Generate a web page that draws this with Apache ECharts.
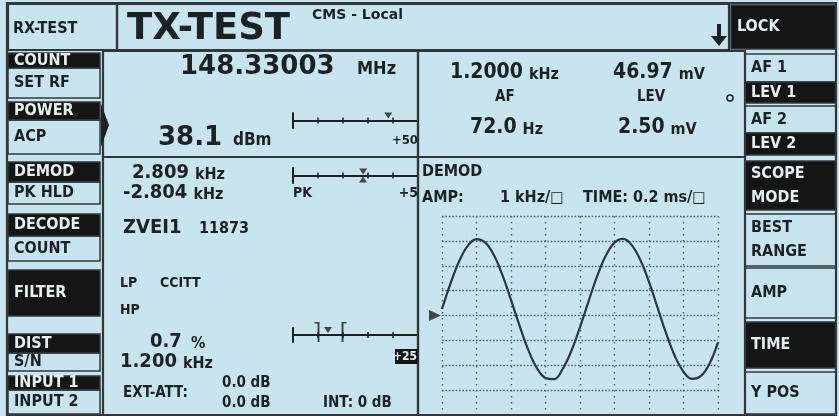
<!DOCTYPE html>
<html>
<head>
<meta charset="utf-8">
<script src="https://cdn.jsdelivr.net/npm/echarts@6/dist/echarts.min.js"></script>
<style>
  html, body { margin: 0; padding: 0; background: #c8e4ee; }
  #main { width: 839px; height: 416px; }
</style>
</head>
<body>
<div id="main"></div>
<script>
// scope trace (0.2 ms/div, 1 kHz/div)
var scopeTimeMs = [0, 0.05, 0.1, 0.15, 0.2, 0.25, 0.3, 0.35, 0.4, 0.45, 0.5, 0.55, 0.6, 0.65, 0.7, 0.75,
  0.8, 0.85, 0.9, 0.95, 1.0, 1.05, 1.1, 1.15, 1.2, 1.25, 1.3, 1.35, 1.4, 1.45, 1.5, 1.55, 1.6]
var scopeDevKHz = [0.26, 1.30, 2.19, 2.81, 3.07, 2.94, 2.44, 1.63, 0.63, -0.42, -1.38, -2.11, -2.51, -2.56, -2.14, -1.42,
  -0.47, 0.58, 1.59, 2.41, 2.93, 3.08, 2.83, 2.23, 1.35, 0.31, -0.73, -1.63, -2.26, -2.55, -2.44, -1.95, -1.08]

// bar meters: full scale and readings
var meterMax = [50, 5, 2.5]
var powerReading = [38.1]
var demodPeaks = [2.809, 2.804]
var distLimits = [0.5, 1.0]
var distReading = [0.7]

var INK = '#1b2225'
var LINE = '#30383c'
var INV = '#151515'
var INVTXT = '#e6eef0'
var COND = '"DejaVu Sans Condensed", "DejaVu Sans", sans-serif'
var WIDE = '"DejaVu Sans", sans-serif'
var NARROW = '"Liberation Sans Narrow", "DejaVu Sans Condensed", sans-serif'

var ctx = document.createElement('canvas').getContext('2d')
function tw (s, size, fam) {
  ctx.font = 'bold ' + size + 'px ' + fam
  return ctx.measureText(s).width
}

function txt (x, y, s, size, opt) {
  opt = opt || {}
  return {
    type: 'text', x: x, y: y, z: 50, silent: true,
    style: {
      text: s,
      fill: opt.fill || INK,
      font: 'bold ' + size + 'px ' + (opt.family || COND),
      align: opt.align || 'left', textAlign: opt.align || 'left',
      verticalAlign: 'middle', textVerticalAlign: 'middle'
    }
  }
}
// number followed by its unit in a smaller face
function reading (x, y, num, unit, ns, us, fam, gap) {
  var f = fam || COND
  var w = tw(num, ns, f)
  return [txt(x, y, num, ns, { family: f }), txt(x + w + (gap || 6), y + 2, unit, us)]
}
function box (x, y, w, h, dark) {
  return {
    type: 'rect', z: 10, silent: true,
    shape: { x: x, y: y, width: w, height: h },
    style: { fill: dark ? INV : 'none', stroke: LINE, lineWidth: 1.5 }
  }
}
function frame (x, y, w, h) {
  return {
    type: 'rect', z: 12, silent: true,
    shape: { x: x, y: y, width: w, height: h },
    style: { fill: 'none', stroke: LINE, lineWidth: 2.2 }
  }
}
// softkey: label on light or inverted box
function key (x, y, w, h, label, dark) {
  var out = [box(x, y, w, h, dark)]
  var lines = label.split('\n')
  lines.forEach(function (l, i) {
    var cy = y + h / 2 + (i - (lines.length - 1) / 2) * 24
    out.push(txt(x + 6, cy, l, 16, { fill: dark ? INVTXT : INK }))
  })
  return out
}

var g = []
// panels
g.push(frame(7, 3, 829, 412))
g.push(frame(8, 4, 109, 46))
g.push(frame(117, 4, 612, 46))
g.push(frame(103, 51, 315, 106))
g.push(frame(418, 51, 327, 106))
g.push(frame(103, 157, 315, 258))
g.push(frame(418, 157, 327, 258))

// title row
g.push(txt(13, 29, 'RX-TEST', 16))
g.push(txt(127, 29, 'TX-TEST', 37, { family: WIDE }))
g.push(txt(312, 15, 'CMS - Local', 14, { family: WIDE }))
g.push({ type: 'rect', z: 20, shape: { x: 717, y: 24, width: 4, height: 14 }, style: { fill: INK } })
g.push({ type: 'polygon', z: 20, shape: { points: [[711, 36], [727, 36], [719, 46]] }, style: { fill: INK } })
g = g.concat(key(731, 5, 105, 44, 'LOCK', true))

// left softkeys
g = g.concat(key(8, 53, 92, 15, 'COUNT', true), key(8, 68, 92, 30, 'SET RF', false))
g = g.concat(key(8, 102, 92, 18, 'POWER', true), key(8, 120, 92, 34, 'ACP', false))
g.push({ type: 'polygon', z: 20, shape: { points: [[101, 104], [109, 125], [101, 147]] }, style: { fill: INK } })
g = g.concat(key(8, 162, 92, 20, 'DEMOD', true), key(8, 182, 92, 22, 'PK HLD', false))
g = g.concat(key(8, 214, 92, 22, 'DECODE', true), key(8, 236, 92, 25, 'COUNT', false))
g = g.concat(key(8, 270, 92, 46, 'FILTER', true))
g = g.concat(key(8, 334, 92, 19, 'DIST', true), key(8, 353, 92, 18, 'S/N', false))
g = g.concat(key(8, 376, 92, 14, 'INPUT 1', true), key(8, 390, 92, 24, 'INPUT 2', false))

// right softkeys
g = g.concat(key(745, 54, 91, 28, 'AF 1', false), key(745, 82, 91, 21, 'LEV 1', true))
g = g.concat(key(745, 106, 91, 27, 'AF 2', false), key(745, 133, 91, 22, 'LEV 2', true))
g = g.concat(key(745, 161, 91, 49, 'SCOPE\nMODE', true))
g = g.concat(key(745, 214, 91, 52, 'BEST\nRANGE', false))
g = g.concat(key(745, 268, 91, 50, 'AMP', false))
g = g.concat(key(745, 322, 91, 46, 'TIME', true))
g = g.concat(key(745, 372, 91, 42, 'Y POS', false))

// RF readings
g.push(txt(180, 67, '148.33003', 26, { family: WIDE }))
g.push(txt(357, 69, 'MHz', 18))
g.push(txt(158, 138, '38.1', 26, { family: WIDE }))
g.push(txt(233, 141, 'dBm', 17))
g.push(txt(418, 141, '+50', 13, { align: 'right' }))

// AF / level readings
g = g.concat(reading(450, 73, '1.2000', 'kHz', 21, 16))
g = g.concat(reading(613, 73, '46.97', 'mV', 21, 16))
g.push(txt(495, 97, 'AF', 15), txt(637, 97, 'LEV', 15))
g = g.concat(reading(470, 128, '72.0', 'Hz', 21, 16))
g = g.concat(reading(618, 128, '2.50', 'mV', 21, 16))
g.push({ type: 'circle', z: 20, shape: { cx: 730, cy: 98, r: 3 }, style: { fill: 'none', stroke: INK, lineWidth: 1.5 } })

// demod / decode / filter / dist
g = g.concat(reading(132, 173, '2.809', 'kHz', 20, 16))
g = g.concat(reading(123, 193, '-2.804', 'kHz', 20, 16))
g.push(txt(293, 193, 'PK', 14), txt(418, 193, '+5', 14, { align: 'right' }))
g.push(txt(123, 228, 'ZVEI1', 20), txt(199, 229, '11873', 16, { family: NARROW }))
g.push(txt(120, 283, 'LP', 14), txt(160, 283, 'CCITT', 14))
g.push(txt(120, 310, 'HP', 14))
g = g.concat(reading(150, 342, '0.7', '%', 20, 16, COND, 9))
g = g.concat(reading(120, 362, '1.200', 'kHz', 20, 16))
g.push({ type: 'rect', z: 20, shape: { x: 395, y: 349, width: 23, height: 15 }, style: { fill: INV } })
g.push(txt(417, 357, '+25', 12, { align: 'right', fill: INVTXT, family: NARROW }))
g.push(txt(123, 393, 'EXT-ATT:', 15))
g.push(txt(222, 383, '0.0 dB', 15), txt(222, 403, '0.0 dB', 15))
g.push(txt(323, 403, 'INT: 0 dB', 15))

// scope header
g.push(txt(422, 172, 'DEMOD', 16))
g.push(txt(422, 198, 'AMP:', 16), txt(500, 198, '1 kHz/\u25a1', 16))
g.push(txt(583, 198, 'TIME:', 16), txt(633, 198, '0.2 ms/\u25a1', 16))

// grids: 0 = scope, 1..3 = bar meters
var meterTop = [113, 168, 328]
var meterH = [15, 15, 14]
var grids = [{ left: 442, top: 216, width: 276, height: 199 }]
var xAxes = [{
  gridIndex: 0, type: 'value', min: 0, max: 1.6, interval: 0.2,
  axisLine: { show: false }, axisTick: { show: false }, axisLabel: { show: false },
  splitLine: { show: true, lineStyle: { color: '#49656e', width: 1.4, type: [1.5, 4.5] } }
}]
var yAxes = [{
  gridIndex: 0, type: 'value', min: -4, max: 4, interval: 1,
  axisLine: { show: false }, axisTick: { show: false }, axisLabel: { show: false },
  splitLine: { show: true, lineStyle: { color: '#49656e', width: 1.4, type: [1.6, 1.8] } }
}]
meterMax.forEach(function (mx, i) {
  var gi = i + 1
  grids.push({ left: 293, top: meterTop[i], width: 125, height: meterH[i] })
  ;['bottom', 'top'].forEach(function (pos) {
    xAxes.push({
      gridIndex: gi, type: 'value', min: 0, max: mx, interval: mx / 5, position: pos,
      axisLine: { show: true, onZero: true, lineStyle: { color: INK, width: 2 } },
      axisTick: { show: true, length: 3, lineStyle: { color: INK, width: 1.5 } },
      axisLabel: { show: false }, splitLine: { show: false }
    })
  })
  ;['left', 'right'].forEach(function (pos) {
    yAxes.push({
      gridIndex: gi, type: 'value', min: -1, max: 1, position: pos,
      axisLine: { show: true, onZero: false, lineStyle: { color: INK, width: 2 } },
      axisTick: { show: false }, axisLabel: { show: false }, splitLine: { show: false }
    })
  })
})

var bracketL = 'path://M0,0 H4 V20 H2.4 V1.6 H0 Z'
var bracketR = 'path://M0,0 H4 V1.6 H1.6 V20 H0 Z'

var chart = echarts.init(document.getElementById('main'))
chart.setOption({
  animation: false,
  backgroundColor: '#c8e4ee',
  grid: grids,
  xAxis: xAxes,
  yAxis: yAxes,
  graphic: { elements: g },
  series: [
    {
      type: 'line', xAxisIndex: 0, yAxisIndex: 0, smooth: 0.4, symbol: 'none',
      lineStyle: { color: '#2b383d', width: 2.2 },
      data: scopeTimeMs.map(function (t, i) { return [t, scopeDevKHz[i]] })
    },
    {
      // trigger / zero marker
      type: 'scatter', xAxisIndex: 0, yAxisIndex: 0, clip: false,
      symbol: 'triangle', symbolRotate: -90, symbolSize: [11, 12], symbolOffset: [-7, 0],
      itemStyle: { color: INK }, data: [[0, 0]]
    },
    {
      type: 'scatter', xAxisIndex: 1, yAxisIndex: 1, clip: false,
      symbol: 'triangle', symbolRotate: 180, symbolSize: [8, 6], symbolOffset: [0, -5],
      itemStyle: { color: INK }, data: powerReading.map(function (v) { return [v, 0] })
    },
    {
      type: 'scatter', xAxisIndex: 3, yAxisIndex: 3, clip: false,
      symbol: 'triangle', symbolRotate: 180, symbolSize: [8, 6], symbolOffset: [0, -4],
      itemStyle: { color: INK }, data: [[demodPeaks[0], 0]]
    },
    {
      type: 'scatter', xAxisIndex: 3, yAxisIndex: 3, clip: false,
      symbol: 'triangle', symbolSize: [8, 6], symbolOffset: [0, 4],
      itemStyle: { color: INK }, data: [[demodPeaks[1], 0]]
    },
    {
      type: 'scatter', xAxisIndex: 5, yAxisIndex: 5, clip: false,
      symbol: 'triangle', symbolRotate: 180, symbolSize: [8, 6], symbolOffset: [0, -5],
      itemStyle: { color: INK }, data: distReading.map(function (v) { return [v, 0] })
    },
    {
      type: 'scatter', xAxisIndex: 5, yAxisIndex: 5, clip: false,
      symbol: bracketL, symbolSize: [5, 20], symbolOffset: [-1, -3],
      itemStyle: { color: INK }, data: [[distLimits[0], 0]]
    },
    {
      type: 'scatter', xAxisIndex: 5, yAxisIndex: 5, clip: false,
      symbol: bracketR, symbolSize: [5, 20], symbolOffset: [1, -3],
      itemStyle: { color: INK }, data: [[distLimits[1], 0]]
    }
  ]
})
</script>
</body>
</html>
